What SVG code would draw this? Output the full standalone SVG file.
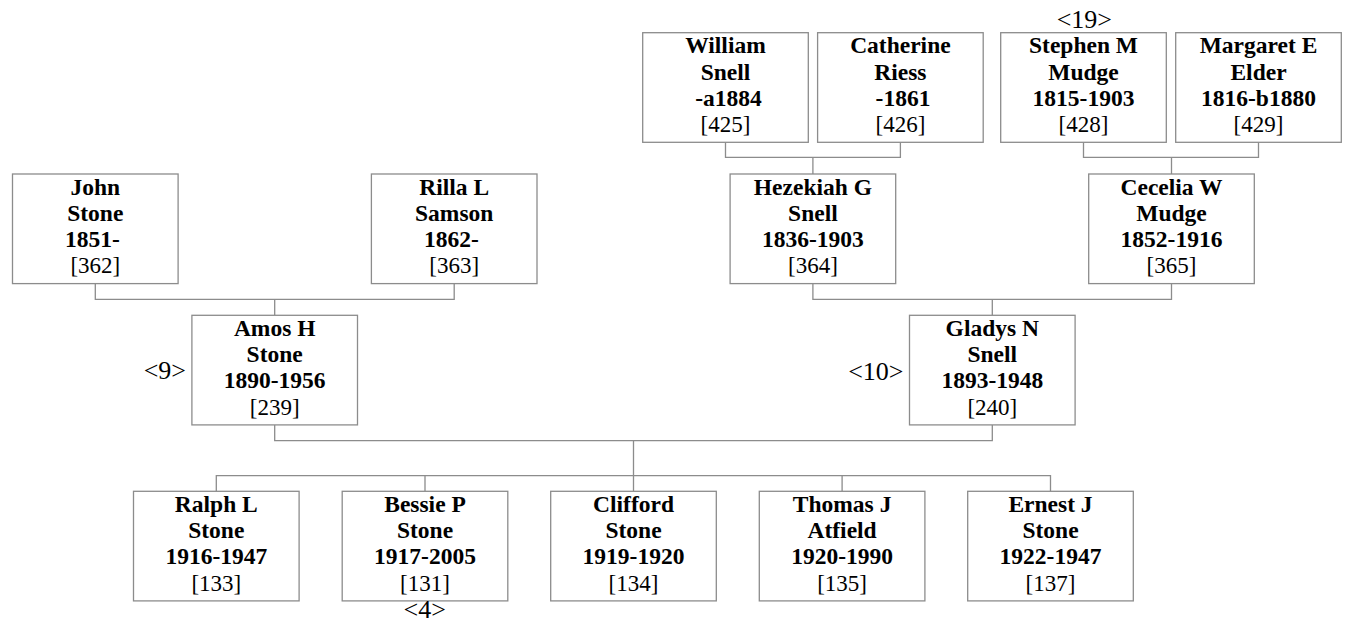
<svg xmlns="http://www.w3.org/2000/svg" width="1348" height="624" viewBox="0 0 1348 624">
<style>
  .box { fill: #ffffff; stroke: #8c8c8c; stroke-width: 1.3; }
  .conn { fill: none; stroke: #8c8c8c; stroke-width: 1.3; }
  .nm { font-weight: bold; font-size: 23.5px; text-anchor: middle; }
  .id { font-size: 23px; text-anchor: middle; }
  .mk { font-size: 26px; }
</style>
<rect width="1348" height="624" fill="#ffffff"/>
<g id="connectors">
  <path class="conn" d="M725.5 142.3 V157.3 H900.4 V142.3 M812.9 157.3 V174"/>
  <path class="conn" d="M1083.5 142.3 V157.3 H1258.5 V142.3 M1171.5 157.3 V174"/>
  <path class="conn" d="M95.3 283.6 V299.3 H454.2 V283.6 M274.7 299.3 V315.3"/>
  <path class="conn" d="M812.9 283.6 V299.3 H1171.5 V283.6 M992.3 299.3 V315.3"/>
  <path class="conn" d="M274.7 424.9 V440.7 H992.3 V424.9 M633.5 440.7 V491.3"/>
  <path class="conn" d="M216.3 491.3 V475.7 H1050.5 V491.3 M425 475.7 V491.3 M842.1 475.7 V491.3"/>
</g>
<g id="nodes" font-family="Liberation Serif, Times New Roman, serif" fill="#000000">
<g id="n425">
  <rect class="box" x="642.7" y="32.7" width="165.6" height="109.6"/>
  <text class="nm" x="725.5" y="53.2">William</text>
  <text class="nm" x="725.5" y="79.5">Snell</text>
  <text class="nm" x="728.5" y="105.8">-a1884</text>
  <text class="id" x="725.5" y="132.1">[425]</text>
</g>
<g id="n426">
  <rect class="box" x="817.6" y="32.7" width="165.6" height="109.6"/>
  <text class="nm" x="900.4" y="53.2">Catherine</text>
  <text class="nm" x="900.4" y="79.5">Riess</text>
  <text class="nm" x="903" y="105.8">-1861</text>
  <text class="id" x="900.4" y="132.1">[426]</text>
</g>
<g id="n428">
  <rect class="box" x="1000.7" y="32.7" width="165.6" height="109.6"/>
  <text class="nm" x="1083.5" y="53.2">Stephen M</text>
  <text class="nm" x="1083.5" y="79.5">Mudge</text>
  <text class="nm" x="1083.5" y="105.8">1815-1903</text>
  <text class="id" x="1083.5" y="132.1">[428]</text>
  <text class="mk" x="1084.3" y="28" text-anchor="middle">&lt;19&gt;</text>
</g>
<g id="n429">
  <rect class="box" x="1175.7" y="32.7" width="165.6" height="109.6"/>
  <text class="nm" x="1258.5" y="53.2">Margaret E</text>
  <text class="nm" x="1258.5" y="79.5">Elder</text>
  <text class="nm" x="1258.5" y="105.8">1816-b1880</text>
  <text class="id" x="1258.5" y="132.1">[429]</text>
</g>
<g id="n362">
  <rect class="box" x="12.5" y="174" width="165.6" height="109.6"/>
  <text class="nm" x="95.3" y="194.5">John</text>
  <text class="nm" x="95.3" y="220.8">Stone</text>
  <text class="nm" x="92.4" y="247.1">1851-</text>
  <text class="id" x="95.3" y="273.4">[362]</text>
</g>
<g id="n363">
  <rect class="box" x="371.4" y="174" width="165.6" height="109.6"/>
  <text class="nm" x="454.2" y="194.5">Rilla L</text>
  <text class="nm" x="454.2" y="220.8">Samson</text>
  <text class="nm" x="451.3" y="247.1">1862-</text>
  <text class="id" x="454.2" y="273.4">[363]</text>
</g>
<g id="n364">
  <rect class="box" x="730.1" y="174" width="165.6" height="109.6"/>
  <text class="nm" x="812.9" y="194.5">Hezekiah G</text>
  <text class="nm" x="812.9" y="220.8">Snell</text>
  <text class="nm" x="812.9" y="247.1">1836-1903</text>
  <text class="id" x="812.9" y="273.4">[364]</text>
</g>
<g id="n365">
  <rect class="box" x="1088.7" y="174" width="165.6" height="109.6"/>
  <text class="nm" x="1171.5" y="194.5">Cecelia W</text>
  <text class="nm" x="1171.5" y="220.8">Mudge</text>
  <text class="nm" x="1171.5" y="247.1">1852-1916</text>
  <text class="id" x="1171.5" y="273.4">[365]</text>
</g>
<g id="n239">
  <rect class="box" x="191.9" y="315.3" width="165.6" height="109.6"/>
  <text class="nm" x="274.7" y="335.8">Amos H</text>
  <text class="nm" x="274.7" y="362.1">Stone</text>
  <text class="nm" x="274.7" y="388.4">1890-1956</text>
  <text class="id" x="274.7" y="414.7">[239]</text>
  <text class="mk" x="186" y="379" text-anchor="end">&lt;9&gt;</text>
</g>
<g id="n240">
  <rect class="box" x="909.5" y="315.3" width="165.6" height="109.6"/>
  <text class="nm" x="992.3" y="335.8">Gladys N</text>
  <text class="nm" x="992.3" y="362.1">Snell</text>
  <text class="nm" x="992.3" y="388.4">1893-1948</text>
  <text class="id" x="992.3" y="414.7">[240]</text>
  <text class="mk" x="903.5" y="380" text-anchor="end">&lt;10&gt;</text>
</g>
<g id="n133">
  <rect class="box" x="133.5" y="491.3" width="165.6" height="109.6"/>
  <text class="nm" x="216.3" y="511.8">Ralph L</text>
  <text class="nm" x="216.3" y="538.1">Stone</text>
  <text class="nm" x="216.3" y="564.4">1916-1947</text>
  <text class="id" x="216.3" y="590.7">[133]</text>
</g>
<g id="n131">
  <rect class="box" x="342.2" y="491.3" width="165.6" height="109.6"/>
  <text class="nm" x="425" y="511.8">Bessie P</text>
  <text class="nm" x="425" y="538.1">Stone</text>
  <text class="nm" x="425" y="564.4">1917-2005</text>
  <text class="id" x="425" y="590.7">[131]</text>
  <text class="mk" x="424.7" y="618" text-anchor="middle">&lt;4&gt;</text>
</g>
<g id="n134">
  <rect class="box" x="550.7" y="491.3" width="165.6" height="109.6"/>
  <text class="nm" x="633.5" y="511.8">Clifford</text>
  <text class="nm" x="633.5" y="538.1">Stone</text>
  <text class="nm" x="633.5" y="564.4">1919-1920</text>
  <text class="id" x="633.5" y="590.7">[134]</text>
</g>
<g id="n135">
  <rect class="box" x="759.3" y="491.3" width="165.6" height="109.6"/>
  <text class="nm" x="842.1" y="511.8">Thomas J</text>
  <text class="nm" x="842.1" y="538.1">Atfield</text>
  <text class="nm" x="842.1" y="564.4">1920-1990</text>
  <text class="id" x="842.1" y="590.7">[135]</text>
</g>
<g id="n137">
  <rect class="box" x="967.7" y="491.3" width="165.6" height="109.6"/>
  <text class="nm" x="1050.5" y="511.8">Ernest J</text>
  <text class="nm" x="1050.5" y="538.1">Stone</text>
  <text class="nm" x="1050.5" y="564.4">1922-1947</text>
  <text class="id" x="1050.5" y="590.7">[137]</text>
</g>
</g>
</svg>
